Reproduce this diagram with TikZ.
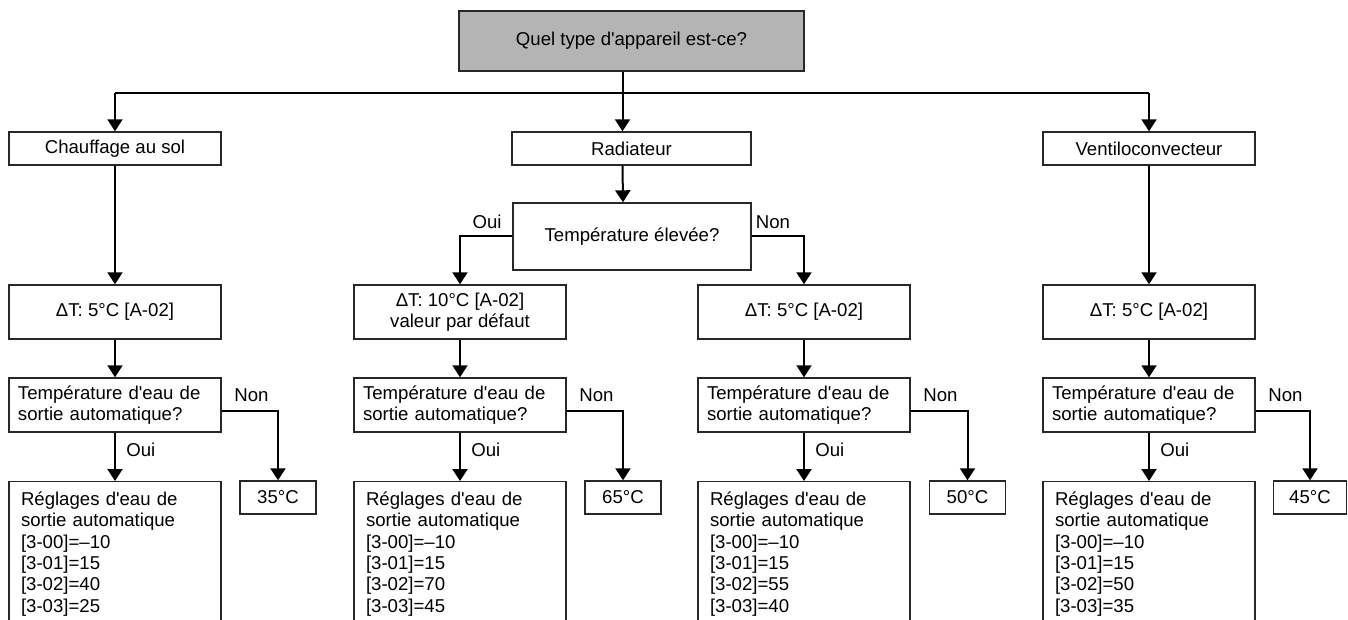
\documentclass[tikz,border=0pt]{standalone}
\usepackage{fontspec}
\setmainfont{Liberation Sans}
\usetikzlibrary{arrows.meta}
\definecolor{topgray}{RGB}{180,180,180}
\definecolor{boxline}{RGB}{40,40,40}
\newcommand{\ap}{\textquotesingle}
\begin{document}
\begin{tikzpicture}[x=0.5pt,y=-0.5pt,
  every node/.style={font=\fontsize{9.3pt}{10.7pt}\selectfont},
  box/.style={draw=boxline, line width=0.7pt, fill=white, inner sep=0pt, align=center},
  lvl/.style={box, minimum width=106pt, minimum height=16.5pt},
  dtbox/.style={box, minimum width=106pt, minimum height=27pt},
  qbox/.style={box, text width=97pt, inner xsep=4.5pt, minimum height=27pt, align=left},
  regbox/.style={box, anchor=north, text width=94pt, inner xsep=6pt, inner ysep=5pt, align=left},
  valbox/.style={box, minimum width=38pt, minimum height=16.5pt},
  lbl/.style={inner sep=0pt},
  conn/.style={line width=1pt, -{Triangle[length=6pt,width=7.5pt]}},
  plain/.style={line width=1pt}
]
\useasboundingbox (0,0) rectangle (1348,620);
\clip (0,0) rectangle (1348,620);

% top
\node[box, fill=topgray, minimum width=172.5pt, minimum height=30pt] (top) at (631.5,41) {Quel type d\ap{}appareil est-ce?};

% level 1
\node[lvl] (ch) at (115,148.5) {Chauffage au sol};
\node[lvl, minimum width=119.5pt] (rad) at (631.5,148.5) {Radiateur};
\node[lvl] (ve) at (1149,148.5) {Ventiloconvecteur};

\coordinate (bus) at (623,93.5);
\draw[plain] (ch.north |- bus) -- (ve.north |- bus);
\draw[conn] (ch.north |- bus) -- (ch.north);
\draw[conn] (ve.north |- bus) -- (ve.north);
\draw[conn] ([xshift=-4.5pt]top.south) -- ([xshift=-4.5pt]rad.north);

% temperature elevee
\node[box, minimum width=119pt, minimum height=33.5pt] (tel) at (632,236.5) {Température élevée?};
\draw[conn] ([xshift=-4.5pt]rad.south) -- ([xshift=-4.5pt]tel.north);

% delta T boxes
\node[dtbox] (d1) at (115,312) {ΔT: 5°C [A-02]};
\node[dtbox] (d2) at (460,312) {ΔT: 10°C [A-02]\\valeur par défaut};
\node[dtbox] (d3) at (804,312) {ΔT: 5°C [A-02]};
\node[dtbox] (d4) at (1149,312) {ΔT: 5°C [A-02]};

\draw[conn] (ch.south) -- (d1.north);
\draw[conn] (ve.south) -- (d4.north);
\draw[conn] (tel.west) -| (d2.north);
\draw[conn] (tel.east) -| (d3.north);
\node[lbl] (ouiT) at (487,222) {Oui};
\node[lbl] (nonT) at (773,222) {Non};

% question boxes
\node[qbox] (q1) at (115,405) {Température d\ap{}eau de\\sortie automatique?};
\node[qbox] (q2) at (460,405) {Température d\ap{}eau de\\sortie automatique?};
\node[qbox] (q3) at (804,405) {Température d\ap{}eau de\\sortie automatique?};
\node[qbox] (q4) at (1149,405) {Température d\ap{}eau de\\sortie automatique?};

\draw[conn] (d1.south) -- (q1.north);
\draw[conn] (d2.south) -- (q2.north);
\draw[conn] (d3.south) -- (q3.north);
\draw[conn] (d4.south) -- (q4.north);

% settings boxes (open at the bottom edge)
\node[regbox] (r1) at (115,481) {Réglages d\ap{}eau de\\sortie automatique\\{[3-00]=–10}\\{[3-01]=15}\\{[3-02]=40}\\{[3-03]=25}\\ \mbox{}};
\node[regbox] (r2) at (460,481) {Réglages d\ap{}eau de\\sortie automatique\\{[3-00]=–10}\\{[3-01]=15}\\{[3-02]=70}\\{[3-03]=45}\\ \mbox{}};
\node[regbox] (r3) at (804,481) {Réglages d\ap{}eau de\\sortie automatique\\{[3-00]=–10}\\{[3-01]=15}\\{[3-02]=55}\\{[3-03]=40}\\ \mbox{}};
\node[regbox] (r4) at (1149,481) {Réglages d\ap{}eau de\\sortie automatique\\{[3-00]=–10}\\{[3-01]=15}\\{[3-02]=50}\\{[3-03]=35}\\ \mbox{}};

% value boxes
\node[valbox] (v1) at (278,497.5) {35°C};
\node[valbox] (v2) at (623,497.5) {65°C};
\node[valbox] (v3) at (967.5,497.5) {50°C};
\node[valbox, minimum width=36.5pt] (v4) at (1310,497.5) {45°C};

% Oui arrows
\draw[conn] (q1.south) -- (r1.north);
\draw[conn] (q2.south) -- (r2.north);
\draw[conn] (q3.south) -- (r3.north);
\draw[conn] (q4.south) -- (r4.north);
\node[lbl, anchor=west] (o1) at (126,450) {Oui};
\node[lbl, anchor=west] (o2) at (471,450) {Oui};
\node[lbl, anchor=west] (o3) at (815,450) {Oui};
\node[lbl, anchor=west] (o4) at (1160,450) {Oui};

% Non arrows
\draw[conn] ([yshift=-3pt]q1.east) -| (v1.north);
\draw[conn] ([yshift=-3pt]q2.east) -| (v2.north);
\draw[conn] ([yshift=-3pt]q3.east) -| (v3.north);
\draw[conn] ([yshift=-3pt]q4.east) -| (v4.north);
\node[lbl, anchor=west] (n1) at (234,395) {Non};
\node[lbl, anchor=west] (n2) at (579,395) {Non};
\node[lbl, anchor=west] (n3) at (923,395) {Non};
\node[lbl, anchor=west] (n4) at (1268,395) {Non};
\end{tikzpicture}
\end{document}
